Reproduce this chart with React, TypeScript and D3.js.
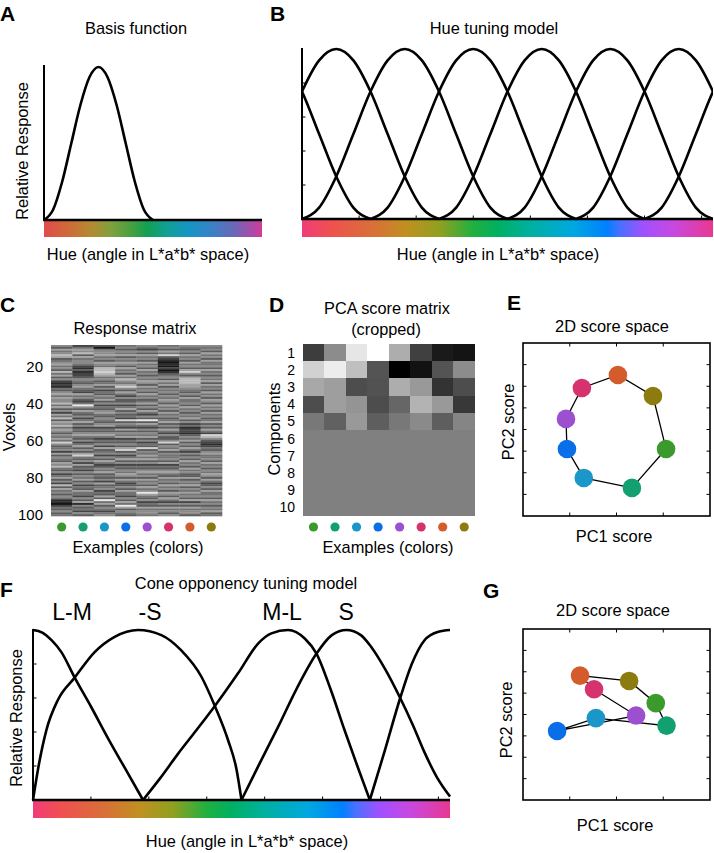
import React from 'react';
import * as d3 from 'd3';

const FONT = '"Liberation Sans", Arial, Helvetica, sans-serif';
const FS = 16.4;

// ---------- shared axis data ----------
const hueTicks = [50, 100, 150, 200, 250, 300, 350];
const responseTicks = [0.2, 0.4, 0.6, 0.8];

// ---------- A / B : basis function (response vs. offset from channel centre) ----------
const basisOffsets = [-90, -75, -60, -45, -30, -15, 0, 15, 30, 45, 60, 75, 90];
const basisValues = [0, 0.067, 0.25, 0.5, 0.75, 0.933, 1, 0.933, 0.75, 0.5, 0.25, 0.067, 0];
const basisCenter = 90;
const hueChannelCenters = [30, 90, 150, 210, 270, 330];

// ---------- colour bars ----------
const barAOffsets = [0, 0.107, 0.213, 0.305, 0.412, 0.473, 0.564, 0.656, 0.747, 0.869, 0.96, 1];
const barAColors = ['#e04c4c', '#d0683a', '#b48a30', '#82a03e', '#40a040', '#12a052', '#10a094', '#1496c2', '#3086c8', '#6868b8', '#b048a8', '#d23c98'];
const barBOffsets = [0, 0.067, 0.173, 0.254, 0.335, 0.417, 0.474, 0.555, 0.66, 0.742, 0.774, 0.831, 0.904, 1];
const barBColors = ['#f03c78', '#f05050', '#d87038', '#c09020', '#90a020', '#20b040', '#00b060', '#00b0a0', '#00a8e0', '#0080ff', '#4a70ff', '#a050ff', '#c848e0', '#e83890'];

// ---------- C : response matrix (grey level 0-9, 8 colours x voxels 9..100) ----------
const responseVoxelStart = 9;
const responseMatrix = [
  '5364576345 6453746352 1214356465 5746352647 3657465354 6485345263 5436574352 4635273645 3541102435 34',
  '2465736455 4213122354 3564326453 2495364352 4635243564 3524635368 4352634253 5463524364 4253615342 53',
  '3045564536 5477876453 4635243546 3524356435 4356243564 2435263452 5364235463 4352634524 3639463542 45',
  '4535463546 5364536475 4685364253 3524635342 8354263546 2435368352 4635243546 5364235364 4253649635 43',
  '5425364536 4536453546 5364536453 4635364253 9364253546 3524383546 4635243564 5364536459 6435243645 54',
  '4536483210 1020134536 4635453546 5364536453 4635364253 3583546354 4536243564 3645364536 5364253645 35',
  '5435364536 4536853677 7665435364 4536453546 3524122135 4635364253 5364536453 3635463546 4536253645 53',
  '5453645364 4536453546 3645364536 5364536453 4635364287 5321243564 4536453546 5364235364 4536453546 34',
];
const voxelTicks = [20, 40, 60, 80, 100];

// ---------- D : PCA score matrix (grey level 0-1), components 1..10 ----------
const pcaScores = [
  [0.24, 0.55, 0.9, 1.0, 0.68, 0.25, 0.1, 0.08],
  [0.82, 0.93, 0.75, 0.33, 0.0, 0.07, 0.33, 0.55],
  [0.66, 0.62, 0.3, 0.32, 0.68, 0.6, 0.2, 0.3],
  [0.3, 0.62, 0.58, 0.3, 0.4, 0.7, 0.6, 0.22],
  [0.47, 0.38, 0.6, 0.37, 0.47, 0.54, 0.37, 0.52],
  [0.5, 0.5, 0.5, 0.5, 0.5, 0.5, 0.5, 0.5],
  [0.5, 0.5, 0.5, 0.5, 0.5, 0.5, 0.5, 0.5],
  [0.5, 0.5, 0.5, 0.5, 0.5, 0.5, 0.5, 0.5],
  [0.5, 0.5, 0.5, 0.5, 0.5, 0.5, 0.5, 0.5],
  [0.5, 0.5, 0.5, 0.5, 0.5, 0.5, 0.5, 0.5],
];
const componentLabels = ['1', '2', '3', '4', '5', '6', '7', '8', '9', '10'];

// ---------- example colours ----------
const exampleNames = ['green', 'teal', 'cyan', 'blue', 'purple', 'magenta', 'orange', 'olive'];
const exampleColors = ['#3a9a2c', '#12a070', '#1a96c8', '#0a6ee8', '#9c50d0', '#d6336e', '#d45c2c', '#8c7c10'];

// ---------- E / G : 2D score space ----------
const hueModelPC1 = [1.06, 0.33, -0.70, -1.06, -1.08, -0.74, 0.03, 0.78];
const hueModelPC2 = [-0.90, -2.70, -2.24, -0.90, 0.49, 1.92, 2.52, 1.55];
const coneModelPC1 = [0.84, 1.07, -0.44, -1.27, 0.42, -0.48, -0.78, 0.27];
const coneModelPC2 = [0.53, -0.52, -0.17, -0.77, -0.05, 1.18, 1.82, 1.57];
const scoreTicksX = [-1, 0, 1];
const scoreTicksY = [-3, -2, -1, 0, 1, 2, 3];

// ---------- F : cone opponency tuning curves [hue, response] ----------
const coneLabels = ['L-M', '-S', 'M-L', 'S'];
const coneLabelHues = [33.7, 101, 215, 270.3];
const curveLM1 = [[0, 1], [8, 0.985], [16, 0.94], [24.5, 0.87], [36, 0.72], [50, 0.55], [65, 0.36], [80, 0.18], [95, 0]];
const curveLM2 = [[290.8, 0], [303.7, 0.29], [317, 0.6], [327, 0.8], [338, 0.94], [350, 0.99], [360, 1]];
const curveNegS = [[0, 0], [4.3, 0.18], [11.5, 0.41], [21.6, 0.59], [36, 0.72], [53.2, 0.87], [70.5, 0.96], [90.7, 1], [110.8, 0.97], [128, 0.88], [145.4, 0.725], [157, 0.553], [168.5, 0.35], [175.7, 0.18], [180, 0]];
const curveML = [[95, 0], [110, 0.13], [125, 0.27], [141, 0.41], [157, 0.553], [177, 0.745], [194.3, 0.92], [205.8, 0.98], [220.2, 1], [234.6, 0.95], [244.6, 0.863], [257, 0.65], [269, 0.41], [280, 0.2], [290.8, 0]];
const curveS = [[180, 0], [196, 0.22], [211.6, 0.43], [228, 0.66], [244.6, 0.86], [258, 0.97], [270.6, 1], [283, 0.97], [292, 0.9], [304, 0.77], [317, 0.6], [328, 0.44], [338, 0.28], [349, 0.13], [360, 0.02]];
const coneCurves = [curveLM1, curveLM2, curveNegS, curveML, curveS];

type Pt = [number, number];

function ColorBar({ id, x0, x1, y, h, offsets, colors }: any) {
  return (
    <g>
      <defs>
        <linearGradient id={id} x1="0" x2="1" y1="0" y2="0">
          {offsets.map((o: number, i: number) => (
            <stop key={i} offset={o} stopColor={colors[i]} />
          ))}
        </linearGradient>
      </defs>
      <rect x={x0} y={y} width={x1 - x0} height={h} fill={`url(#${id})`} />
    </g>
  );
}

function PanelLetter({ x, y, t }: any) {
  return (
    <text x={x} y={y} fontSize={21} fontWeight="bold" fontFamily={FONT}>{t}</text>
  );
}

function Label({ x, y, t, size = FS, rotate = false, anchor = 'middle' }: any) {
  if (rotate) {
    return (
      <text transform={`translate(${x},${y}) rotate(-90)`} textAnchor={anchor} fontSize={size} fontFamily={FONT}>{t}</text>
    );
  }
  return <text x={x} y={y} textAnchor={anchor} fontSize={size} fontFamily={FONT}>{t}</text>;
}

function PanelA() {
  const x = d3.scaleLinear().domain([0, 360]).range([44, 262]);
  const y = d3.scaleLinear().domain([0, 1]).range([220, 67]);
  const pts: Pt[] = basisOffsets.map((o, i) => [basisCenter + o, basisValues[i]]);
  const line = d3.line<Pt>().x(d => x(d[0])).y(d => y(d[1])).curve(d3.curveMonotoneX);
  return (
    <g>
      <PanelLetter x={0} y={21} t="A" />
      <Label x={136} y={34} t="Basis function" />
      <ColorBar id="barA" x0={44} x1={262} y={221} h={16} offsets={barAOffsets} colors={barAColors} />
      <path d={line(pts) || ''} fill="none" stroke="#000" strokeWidth={2.6} />
      <line x1={44} x2={44} y1={65} y2={221} stroke="#000" strokeWidth={2} />
      <line x1={43} x2={262} y1={220} y2={220} stroke="#000" strokeWidth={2.4} />
      <Label x={28} y={151} t="Relative Response" rotate />
      <Label x={148} y={260} t="Hue (angle in L*a*b* space)" />
    </g>
  );
}

function PanelB() {
  const x = d3.scaleLinear().domain([0, 360]).range([302, 713]);
  const y = d3.scaleLinear().domain([0, 1]).range([219, 49]);
  const line = d3.line<Pt>().x(d => x(d[0])).y(d => y(d[1])).curve(d3.curveMonotoneX);
  const paths: string[] = [];
  hueChannelCenters.forEach(c => {
    [-360, 0, 360].forEach(s => {
      const pts: Pt[] = basisOffsets.map((o, i) => [c + o + s, basisValues[i]]);
      if (pts[pts.length - 1][0] > 0 && pts[0][0] < 360) paths.push(line(pts) || '');
    });
  });
  return (
    <g>
      <PanelLetter x={270} y={21} t="B" />
      <Label x={494} y={34} t="Hue tuning model" />
      <ColorBar id="barB" x0={302} x1={713} y={220} h={17} offsets={barBOffsets} colors={barBColors} />
      <defs>
        <clipPath id="clipB"><rect x={302} y={30} width={411} height={192} /></clipPath>
      </defs>
      <g clipPath="url(#clipB)">
        {paths.map((p, i) => <path key={i} d={p} fill="none" stroke="#000" strokeWidth={2.6} />)}
      </g>
      <line x1={302} x2={302} y1={48} y2={220} stroke="#000" strokeWidth={2} />
      <line x1={301} x2={713} y1={219} y2={219} stroke="#000" strokeWidth={2.4} />
      {responseTicks.map(t => <line key={t} x1={302} x2={305.5} y1={y(t)} y2={y(t)} stroke="#000" strokeWidth={1} />)}
      {hueTicks.map(t => <line key={t} x1={x(t)} x2={x(t)} y1={219} y2={215.5} stroke="#000" strokeWidth={1} />)}
      <Label x={498} y={260} t="Hue (angle in L*a*b* space)" />
    </g>
  );
}

function Dots({ xs }: any) {
  return (
    <g>
      {xs.map((cx: number, i: number) => <circle key={i} cx={cx} cy={527} r={4.6} fill={exampleColors[i]} />)}
    </g>
  );
}

function PanelC() {
  const cols = responseMatrix.map(s => s.replace(/ /g, ''));
  const nRows = cols[0].length;
  const x = d3.scaleBand<number>().domain(d3.range(cols.length)).range([51, 222]);
  const y = d3.scaleLinear().domain([responseVoxelStart - 0.5, responseVoxelStart + nRows - 0.5]).range([345, 516]);
  const grey = d3.scaleLinear<string>().domain([0, 9]).range(['#161616', '#e8e8e8']);
  const cells: any[] = [];
  cols.forEach((s, ci) => {
    for (let r = 0; r < nRows; r++) {
      const v = responseVoxelStart + r;
      cells.push(
        <rect key={`${ci}-${r}`} x={x(ci)} y={y(v - 0.5)} width={x.bandwidth() + 0.3} height={y(v + 0.5) - y(v - 0.5) + 0.3} fill={grey(+s[r])} />
      );
    }
  });
  return (
    <g>
      <PanelLetter x={0} y={312} t="C" />
      <Label x={135} y={334} t="Response matrix" />
      <g>{cells}</g>
      {voxelTicks.map(t => (
        <text key={t} x={43} y={y(t)} dy="0.36em" textAnchor="end" fontSize={15} fontFamily={FONT}>{t}</text>
      ))}
      <Label x={15} y={427} t="Voxels" rotate />
      <Dots xs={exampleNames.map((_, i) => (x(i) || 0) + x.bandwidth() / 2)} />
      <Label x={138} y={553} t="Examples (colors)" />
    </g>
  );
}

function PanelD() {
  const x = d3.scaleBand<number>().domain(d3.range(8)).range([302.7, 475]);
  const y = d3.scaleBand<string>().domain(componentLabels).range([344, 516]);
  const grey = d3.scaleLinear<string>().domain([0, 1]).range(['#000000', '#ffffff']);
  return (
    <g>
      <PanelLetter x={269} y={312} t="D" />
      <Label x={387} y={314} t="PCA score matrix" size={16.3} />
      <Label x={386} y={335} t="(cropped)" size={16.3} />
      <g shapeRendering="crispEdges">
        {pcaScores.map((row, ri) => row.map((v, ci) => (
          <rect key={`${ri}-${ci}`} x={x(ci)} y={y(componentLabels[ri])} width={x.bandwidth() + 0.3} height={y.bandwidth() + 0.3} fill={grey(v)} />
        )))}
      </g>
      {componentLabels.map(c => (
        <text key={c} x={295} y={(y(c) || 0) + y.bandwidth() / 2} dy="0.36em" textAnchor="end" fontSize={14} fontFamily={FONT}>{c}</text>
      ))}
      <Label x={280} y={429} t="Components" rotate />
      <Dots xs={exampleNames.map((_, i) => (x(i) || 0) + x.bandwidth() / 2)} />
      <Label x={388} y={553} t="Examples (colors)" />
    </g>
  );
}

function ScorePanel({ top, bottom, pc1, pc2 }: any) {
  const x = d3.scaleLinear().domain([-2, 2]).range([523, 710]);
  const y = d3.scaleLinear().domain([-4, 4]).range([bottom, top]);
  const pts: Pt[] = pc1.map((v: number, i: number) => [x(v), y(pc2[i])]);
  const path = d3.line<Pt>().curve(d3.curveLinearClosed)(pts) || '';
  const tl = 3.5;
  return (
    <g>
      <rect x={523} y={top} width={187} height={bottom - top} fill="none" stroke="#000" strokeWidth={1.6} />
      {scoreTicksX.map(t => (
        <g key={t}>
          <line x1={x(t)} x2={x(t)} y1={top} y2={top + tl} stroke="#000" strokeWidth={1} />
          <line x1={x(t)} x2={x(t)} y1={bottom} y2={bottom - tl} stroke="#000" strokeWidth={1} />
        </g>
      ))}
      {scoreTicksY.map(t => (
        <g key={t}>
          <line x1={523} x2={523 + tl} y1={y(t)} y2={y(t)} stroke="#000" strokeWidth={1} />
          <line x1={710} x2={710 - tl} y1={y(t)} y2={y(t)} stroke="#000" strokeWidth={1} />
        </g>
      ))}
      <path d={path} fill="none" stroke="#000" strokeWidth={1.3} />
      {pts.map((p, i) => <circle key={i} cx={p[0]} cy={p[1]} r={9.3} fill={exampleColors[i]} />)}
    </g>
  );
}

function PanelE() {
  return (
    <g>
      <PanelLetter x={507} y={310} t="E" />
      <Label x={612} y={332} t="2D score space" />
      <ScorePanel top={343} bottom={516} pc1={hueModelPC1} pc2={hueModelPC2} />
      <Label x={514} y={422} t="PC2 score" rotate />
      <Label x={614} y={542} t="PC1 score" />
    </g>
  );
}

function PanelG() {
  return (
    <g>
      <PanelLetter x={483} y={598} t="G" />
      <Label x={613} y={616} t="2D score space" />
      <ScorePanel top={629} bottom={800} pc1={coneModelPC1} pc2={coneModelPC2} />
      <Label x={512} y={720} t="PC2 score" rotate />
      <Label x={615} y={831} t="PC1 score" />
    </g>
  );
}

function PanelF() {
  const x = d3.scaleLinear().domain([0, 360]).range([33, 450]);
  const y = d3.scaleLinear().domain([0, 1]).range([800, 630]);
  const line = d3.line<number[]>().x(d => x(d[0])).y(d => y(d[1])).curve(d3.curveMonotoneX);
  return (
    <g>
      <PanelLetter x={0} y={597} t="F" />
      <Label x={246} y={589} t="Cone opponency tuning model" />
      {coneLabels.map((c, i) => (
        <text key={c} x={x(coneLabelHues[i])} y={620} textAnchor="middle" fontSize={23} fontFamily={FONT}>{c}</text>
      ))}
      <ColorBar id="barF" x0={33} x1={450} y={801} h={17} offsets={barBOffsets} colors={barBColors} />
      {coneCurves.map((c, i) => <path key={i} d={line(c) || ''} fill="none" stroke="#000" strokeWidth={2.6} />)}
      <line x1={33} x2={33} y1={629} y2={801} stroke="#000" strokeWidth={2} />
      <line x1={32} x2={450} y1={800} y2={800} stroke="#000" strokeWidth={2.4} />
      {responseTicks.map(t => <line key={t} x1={33} x2={36.5} y1={y(t)} y2={y(t)} stroke="#000" strokeWidth={1} />)}
      {hueTicks.map(t => <line key={t} x1={x(t)} x2={x(t)} y1={800} y2={796.5} stroke="#000" strokeWidth={1} />)}
      <Label x={22} y={718} t="Relative Response" rotate />
      <Label x={247} y={847} t="Hue (angle in L*a*b* space)" />
    </g>
  );
}

export default function App() {
  return (
    <svg width={714} height={853} viewBox="0 0 714 853" style={{ position: 'absolute', left: 0, top: 0, background: '#fff' }}>
      <rect x={0} y={0} width={714} height={853} fill="#fff" />
      <PanelA />
      <PanelB />
      <PanelC />
      <PanelD />
      <PanelE />
      <PanelF />
      <PanelG />
    </svg>
  );
}
